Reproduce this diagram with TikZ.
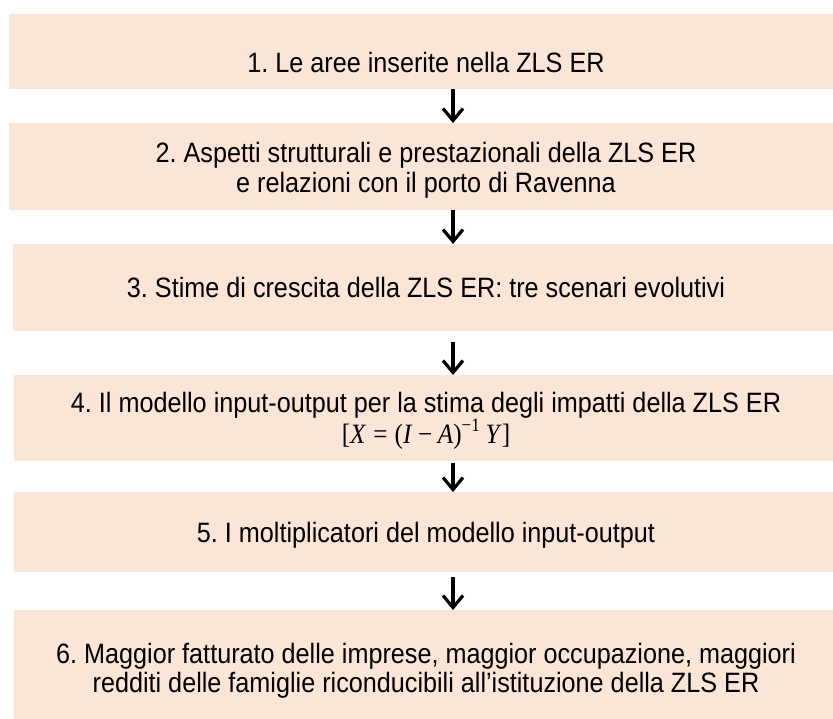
\documentclass[tikz,border=0pt]{standalone}
\usepackage{fontspec}
\setmainfont{Liberation Sans}[FakeStretch=0.9]
\newfontfamily\mathlike{Liberation Serif}[FakeStretch=0.9]
\usetikzlibrary{arrows.meta}
\definecolor{peach}{HTML}{FBE5D6}
\frenchspacing
\tikzset{
  box/.style={fill=peach, draw=none, inner sep=0pt, outer sep=0pt, anchor=north west},
  lbl/.style={font=\fontsize{28}{29.5}\selectfont, align=center, inner sep=0pt, text=black},
  arr/.style={line width=3.2pt, draw=black, line join=miter, -{Straight Barb[length=12pt,width=20pt]}}
}
\begin{document}
\begin{tikzpicture}[x=1pt,y=-1pt]
\useasboundingbox (0,0) rectangle (833,718);
\clip (0,0) rectangle (833,718);
% boxes
\node[box, minimum width=829pt, minimum height=75pt]  (b1) at (9,14) {};
\node[box, minimum width=829pt, minimum height=87pt]  (b2) at (9,123) {};
\node[box, minimum width=825pt, minimum height=87pt]  (b3) at (13,244) {};
\node[box, minimum width=824pt, minimum height=86pt]  (b4) at (14,375) {};
\node[box, minimum width=824pt, minimum height=80pt]  (b5) at (14,492) {};
\node[box, minimum width=824pt, minimum height=110pt] (b6) at (14,610) {};
% texts
\node[lbl, anchor=base] (t1) at (426,72) {1. Le aree inserite nella ZLS ER};
\node[lbl] (t2) at (426,170.5) {2. Aspetti strutturali e prestazionali della ZLS ER\\e relazioni con il porto di Ravenna};
\node[lbl, anchor=base] (t3) at (426,297) {3. Stime di crescita della ZLS ER: tre scenari evolutivi};
\node[lbl, anchor=base] (t4) at (426,412) {4. Il modello input-output per la stima degli impatti della ZLS ER};
\node[lbl, anchor=base, font=\mathlike\fontsize{28}{30}\selectfont] (t4m) at (426,443)
  {[\textit{X}\hspace{0.25em}=\hspace{0.25em}(\textit{I}\hspace{0.2em}−\hspace{0.2em}\textit{A})\raisebox{0.42em}{\fontsize{19}{21}\selectfont −1}\hspace{0.2em}\textit{Y}]};
\node[lbl, anchor=base] (t5) at (426,542) {5. I moltiplicatori del modello input-output};
\node[lbl] (t6) at (426,671) {6. Maggior fatturato delle imprese, maggior occupazione, maggiori\\redditi delle famiglie riconducibili all’istituzione della ZLS ER};
% arrows
\coordinate (ax) at (453,0);
\draw[arr] (b1.south -| ax) -- (b2.north -| ax);
\draw[arr] (b2.south -| ax) -- (b3.north -| ax);
\draw[arr, shorten <=11pt] (b3.south -| ax) -- (b4.north -| ax);
\draw[arr, shorten <=2pt] (b4.south -| ax) -- (b5.north -| ax);
\draw[arr, shorten <=5pt] (b5.south -| ax) -- (b6.north -| ax);
\end{tikzpicture}
\end{document}
